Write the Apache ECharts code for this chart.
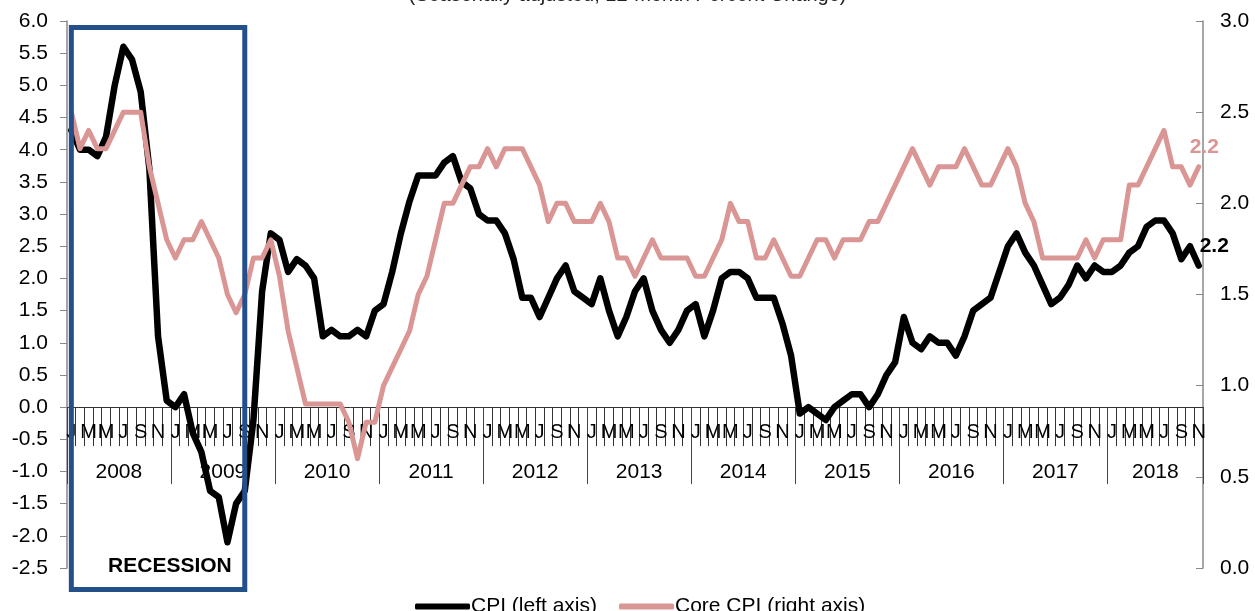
<!DOCTYPE html>
<html>
<head>
<meta charset="utf-8">
<script src="https://cdn.jsdelivr.net/npm/echarts@6/dist/echarts.min.js"></script>
<style>
html, body { margin: 0; padding: 0; background: #fff; }
#main { width: 1255px; height: 611px; }
</style>
</head>
<body>
<div id="main"></div>
<script>
// monthly y/y % change, Jan 2008 - Nov 2018
var years = ['2008', '2009', '2010', '2011', '2012', '2013', '2014', '2015', '2016', '2017', '2018'];
var monthLetters = ['J', 'F', 'M', 'A', 'M', 'J', 'J', 'A', 'S', 'O', 'N', 'D'];

var cpi = [
  4.3, 4.0, 4.0, 3.9, 4.2, 5.0, 5.6, 5.4, 4.9, 3.7, 1.1, 0.1,
  0.0, 0.2, -0.4, -0.7, -1.3, -1.4, -2.1, -1.5, -1.3, -0.2, 1.8, 2.7,
  2.6, 2.1, 2.3, 2.2, 2.0, 1.1, 1.2, 1.1, 1.1, 1.2, 1.1, 1.5,
  1.6, 2.1, 2.7, 3.2, 3.6, 3.6, 3.6, 3.8, 3.9, 3.5, 3.4, 3.0,
  2.9, 2.9, 2.7, 2.3, 1.7, 1.7, 1.4, 1.7, 2.0, 2.2, 1.8, 1.7,
  1.6, 2.0, 1.5, 1.1, 1.4, 1.8, 2.0, 1.5, 1.2, 1.0, 1.2, 1.5,
  1.6, 1.1, 1.5, 2.0, 2.1, 2.1, 2.0, 1.7, 1.7, 1.7, 1.3, 0.8,
  -0.1, 0.0, -0.1, -0.2, 0.0, 0.1, 0.2, 0.2, 0.0, 0.2, 0.5, 0.7,
  1.4, 1.0, 0.9, 1.1, 1.0, 1.0, 0.8, 1.1, 1.5, 1.6, 1.7, 2.1,
  2.5, 2.7, 2.4, 2.2, 1.9, 1.6, 1.7, 1.9, 2.2, 2.0, 2.2, 2.1,
  2.1, 2.2, 2.4, 2.5, 2.8, 2.9, 2.9, 2.7, 2.3, 2.5, 2.2
];

var coreCpi = [
  2.5, 2.3, 2.4, 2.3, 2.3, 2.4, 2.5, 2.5, 2.5, 2.2, 2.0, 1.8,
  1.7, 1.8, 1.8, 1.9, 1.8, 1.7, 1.5, 1.4, 1.5, 1.7, 1.7, 1.8,
  1.6, 1.3, 1.1, 0.9, 0.9, 0.9, 0.9, 0.9, 0.8, 0.6, 0.8, 0.8,
  1.0, 1.1, 1.2, 1.3, 1.5, 1.6, 1.8, 2.0, 2.0, 2.1, 2.2, 2.2,
  2.3, 2.2, 2.3, 2.3, 2.3, 2.2, 2.1, 1.9, 2.0, 2.0, 1.9, 1.9,
  1.9, 2.0, 1.9, 1.7, 1.7, 1.6, 1.7, 1.8, 1.7, 1.7, 1.7, 1.7,
  1.6, 1.6, 1.7, 1.8, 2.0, 1.9, 1.9, 1.7, 1.7, 1.8, 1.7, 1.6,
  1.6, 1.7, 1.8, 1.8, 1.7, 1.8, 1.8, 1.8, 1.9, 1.9, 2.0, 2.1,
  2.2, 2.3, 2.2, 2.1, 2.2, 2.2, 2.2, 2.3, 2.2, 2.1, 2.1, 2.2,
  2.3, 2.2, 2.0, 1.9, 1.7, 1.7, 1.7, 1.7, 1.7, 1.8, 1.7, 1.8,
  1.8, 1.8, 2.1, 2.1, 2.2, 2.3, 2.4, 2.2, 2.2, 2.1, 2.2
];

var leftRange = [-2.5, 6.0];
var rightRange = [0, 3.0];
var recession = ['2008-1', '2009-9'];

var categories = [];
years.forEach(function (y) {
  monthLetters.forEach(function (m, i) {
    if (categories.length < cpi.length) categories.push(y + '-' + (i + 1));
  });
});
var total = categories.length;

// where the year label goes: middle of the months that year has
function yearLabelIndex(yi) {
  var n = Math.min(12, total - yi * 12);
  return yi * 12 + Math.floor(n / 2);
}
function yearLabelShift(yi) {
  var n = Math.min(12, total - yi * 12);
  return n % 2 === 0;
}

var font = 'Liberation Sans, Arial, sans-serif';
var gridTop = 21, gridHeight = 547, gridLeft = 67, gridRight = 52;
// the date axis sits on the zero line of the left axis
var zeroY = gridTop + gridHeight * (leftRange[1] - 0) / (leftRange[1] - leftRange[0]);

var chart = echarts.init(document.getElementById('main'));

var option = {
  animation: false,
  color: ['#000000', '#d99694'],
  textStyle: { fontFamily: font },
  title: {
    text: '(Seasonally adjusted, 12-month Percent Change)',
    left: 'center',
    top: -20,
    textStyle: { fontSize: 20, fontWeight: 'normal', color: '#222', fontFamily: font }
  },
  legend: {
    left: 410,
    top: 591,
    icon: 'roundRect',
    itemWidth: 55,
    itemHeight: 6,
    itemGap: 22,
    textStyle: { fontSize: 21, color: '#000', fontFamily: font, padding: [0, 0, 0, -4] },
    data: ['CPI (left axis)', 'Core CPI (right axis)']
  },
  grid: [
    { left: gridLeft, right: gridRight, top: gridTop, height: gridHeight },
    { left: gridLeft, right: gridRight, top: zeroY - 10, height: 10 }
  ],
  xAxis: [
    {
      type: 'category',
      gridIndex: 0,
      data: categories,
      boundaryGap: true,
      axisLine: { show: false },
      axisTick: { show: false },
      axisLabel: { show: false },
      splitLine: { show: false }
    },
    {
      type: 'category',
      gridIndex: 1,
      data: categories,
      boundaryGap: true,
      axisLine: { show: true, onZero: false, lineStyle: { color: '#333', width: 1 } },
      axisTick: { show: true, interval: 0, length: 39, lineStyle: { color: '#333', width: 1 } },
      axisLabel: {
        interval: 1,
        margin: 15,
        fontSize: 20,
        color: '#000',
        fontFamily: font,
        formatter: function (v, i) { return monthLetters[i % 12]; }
      },
      splitLine: { show: false }
    },
    {
      type: 'category',
      gridIndex: 1,
      data: categories,
      position: 'bottom',
      boundaryGap: true,
      axisLine: { show: false, onZero: false },
      axisTick: {
        show: true,
        length: 77,
        interval: function (i) { return i % 12 === 0; },
        lineStyle: { color: '#444', width: 1 }
      },
      axisLabel: {
        margin: 55,
        fontSize: 21,
        color: '#000',
        fontFamily: font,
        interval: function (i) {
          var yi = Math.floor(i / 12);
          return i === yearLabelIndex(yi);
        },
        formatter: function (v, i) {
          var yi = Math.floor(i / 12);
          return yearLabelShift(yi) ? '{s|' + years[yi] + '}' : '{c|' + years[yi] + '}';
        },
        rich: {
          s: { fontSize: 21, fontFamily: font, color: '#000', padding: [0, 9, 0, 0] },
          c: { fontSize: 21, fontFamily: font, color: '#000' }
        }
      },
      splitLine: { show: false }
    }
  ],
  yAxis: [
    {
      type: 'value',
      gridIndex: 0,
      position: 'left',
      min: leftRange[0],
      max: leftRange[1],
      interval: 0.5,
      axisLine: { show: true, lineStyle: { color: '#888', width: 1.5 } },
      axisTick: { show: true, length: 7, lineStyle: { color: '#888' } },
      axisLabel: {
        margin: 19,
        fontSize: 21,
        color: '#000',
        fontFamily: font,
        formatter: function (v) { return v.toFixed(1); }
      },
      splitLine: { show: false }
    },
    {
      type: 'value',
      gridIndex: 0,
      position: 'right',
      min: rightRange[0],
      max: rightRange[1],
      interval: 0.5,
      axisLine: { show: true, lineStyle: { color: '#888', width: 1.5 } },
      axisTick: { show: true, inside: true, length: 7, lineStyle: { color: '#888' } },
      axisLabel: {
        margin: 17,
        fontSize: 21,
        color: '#000',
        fontFamily: font,
        formatter: function (v) { return v.toFixed(1); }
      },
      splitLine: { show: false }
    },
    {
      type: 'value',
      gridIndex: 1,
      min: 0,
      max: 1,
      show: false
    }
  ],
  series: [
    {
      name: 'CPI (left axis)',
      type: 'line',
      xAxisIndex: 0,
      yAxisIndex: 0,
      data: cpi,
      symbol: 'none',
      z: 3,
      lineStyle: { color: '#000', width: 6.5, cap: 'round', join: 'round' },
      itemStyle: { color: '#000' },
      endLabel: {
        show: true,
        offset: [-7, -19],
        fontSize: 21,
        fontWeight: 'bold',
        color: '#000',
        fontFamily: font,
        formatter: function (p) { return p.value.toFixed(1); }
      }
    },
    {
      name: 'Core CPI (right axis)',
      type: 'line',
      xAxisIndex: 0,
      yAxisIndex: 1,
      data: coreCpi,
      symbol: 'none',
      z: 4,
      lineStyle: { color: '#d99694', width: 5, cap: 'round', join: 'round' },
      itemStyle: { color: '#d99694' },
      endLabel: {
        show: true,
        offset: [-17, -20],
        fontSize: 21,
        fontWeight: 'bold',
        color: '#d99694',
        fontFamily: font,
        formatter: function (p) { return p.value.toFixed(1); }
      }
    }
  ]
};
chart.setOption(option);

// recession box, x edges taken from the category axis
var x0 = chart.convertToPixel({ xAxisIndex: 0 }, recession[0]);
var x1 = chart.convertToPixel({ xAxisIndex: 0 }, recession[1]);
chart.setOption({
  graphic: [
    {
      type: 'rect',
      z: 100,
      shape: { x: x0, y: 27.5, width: x1 - x0, height: 562 },
      style: { fill: 'none', stroke: '#24508a', lineWidth: 5 }
    },
    {
      type: 'text',
      z: 100,
      x: x1 - 13,
      y: 566,
      style: {
        text: 'RECESSION',
        align: 'right',
        verticalAlign: 'middle',
        font: 'bold 21px Liberation Sans, Arial, sans-serif',
        fill: '#000'
      }
    }
  ]
});
</script>
</body>
</html>
